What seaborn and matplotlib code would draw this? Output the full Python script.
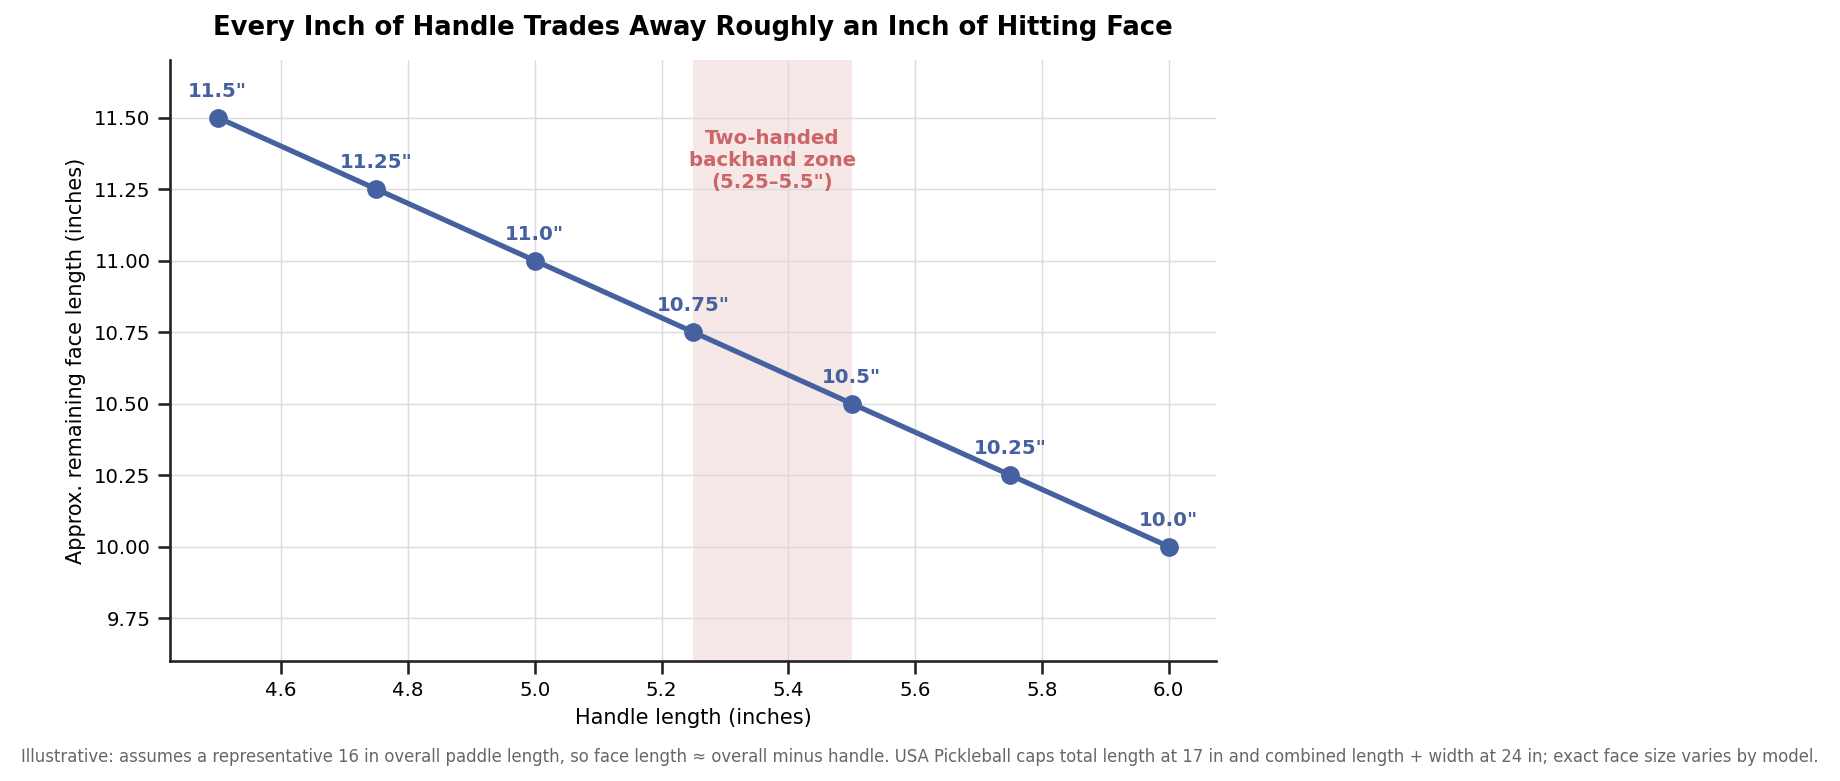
import matplotlib
matplotlib.use("Agg")
import matplotlib.pyplot as plt
import seaborn as sns
import pandas as pd

# datos
handle_len = [4.5, 4.75, 5.0, 5.25, 5.5, 5.75, 6.0]
face_len = [11.5, 11.25, 11.0, 10.75, 10.5, 10.25, 10.0]
point_labels = ['11.5"', '11.25"', '11.0"', '10.75"', '10.5"', '10.25"', '10.0"']
zone_range = [5.25, 5.5]

title = "Every Inch of Handle Trades Away Roughly an Inch of Hitting Face"
caption = ("Illustrative: assumes a representative 16 in overall paddle length, so face length \u2248 overall "
           "minus handle. USA Pickleball caps total length at 17 in and combined length + width at 24 in; "
           "exact face size varies by model.")

sns.set_theme(style="ticks")
plt.rcParams['font.family'] = ['DejaVu Sans']
# texto en negro puro
for k in ['text.color', 'axes.labelcolor', 'xtick.color', 'ytick.color']:
    plt.rcParams[k] = 'black'
plt.rcParams['axes.edgecolor'] = '#222222'

line_color = '#4661a0'
zone_color = '#c44e52'

df = pd.DataFrame({'handle': handle_len, 'face': face_len})

fig = plt.figure(figsize=(1840 / 150, 781 / 150), dpi=150)
ax = fig.add_axes([0.0925, 0.1537, 0.5685, 0.769])

ax.axvspan(zone_range[0], zone_range[1], color=zone_color, alpha=0.13, lw=0, zorder=0)
ax.grid(True, color='#dcdcdc', linewidth=0.7, zorder=1)

sns.lineplot(data=df, x='handle', y='face', ax=ax, color=line_color, linewidth=2.5,
             marker='o', markersize=9, markeredgewidth=0, zorder=3)

for x, y, lab in zip(handle_len, face_len, point_labels):
    ax.annotate(lab, (x, y), xytext=(0, 8), textcoords='offset points', ha='center', va='bottom',
                fontsize=9.5, fontweight='bold', color=line_color)

ax.text(sum(zone_range) / 2, 11.35, 'Two-handed\nbackhand zone\n(5.25\u20135.5")', ha='center', va='center',
        fontsize=9.5, fontweight='bold', color=zone_color, alpha=0.85)

ax.set_ylim(9.6, 11.7)
ax.set_yticks([9.75, 10.0, 10.25, 10.5, 10.75, 11.0, 11.25, 11.5])
ax.tick_params(labelsize=9.5, color='#222222')
ax.set_xlabel('Handle length (inches)', fontsize=10)
ax.set_ylabel('Approx. remaining face length (inches)', fontsize=10)
ax.set_title(title, fontsize=12.4, fontweight='bold', pad=12)
sns.despine(ax=ax)

fig.text(0.5, 0.031, caption, ha='center', va='center', fontsize=7.93, color='#666666')

fig.savefig('out.png', dpi=150)
